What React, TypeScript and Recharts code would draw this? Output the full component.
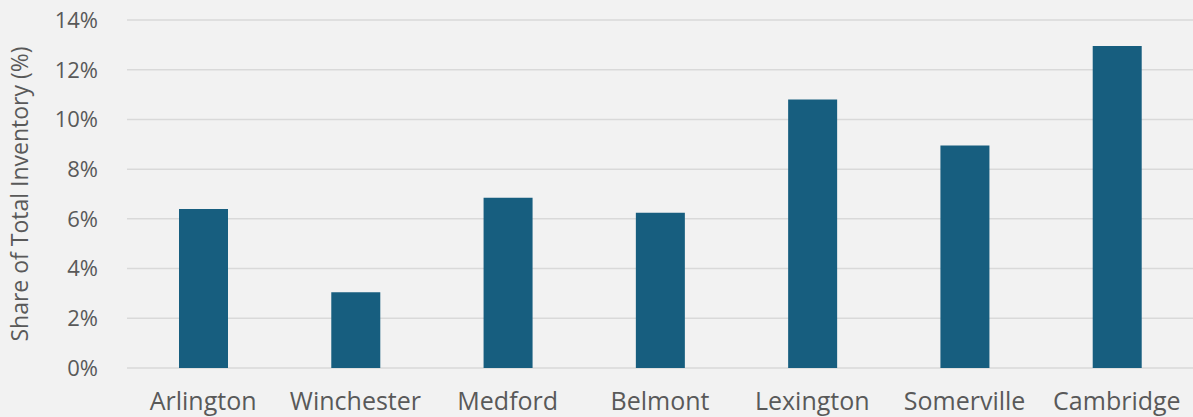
import { Bar, BarChart, CartesianGrid, XAxis, YAxis } from "recharts";

const towns = ["Arlington", "Winchester", "Medford", "Belmont", "Lexington", "Somerville", "Cambridge"];
const shares = [6.4, 3.05, 6.85, 6.25, 10.8, 8.95, 12.95];
const yTicks = [0, 2, 4, 6, 8, 10, 12, 14];

const data = towns.map((town, i) => ({ town, share: shares[i] }));

const textColor = "#595959";
const font = "'Open Sans', 'Noto Sans', sans-serif";

export default function App() {
  return (
    <div style={{ position: "absolute", left: 0, top: 0, width: 1193, height: 417, background: "#f2f2f2", fontFamily: font }}>
      <BarChart
        width={1193}
        height={417}
        data={data}
        margin={{ top: 20, right: 0, bottom: 0, left: 0 }}
        barSize={49}
      >
        <CartesianGrid vertical={false} stroke="#d9d9d9" strokeWidth={1.5} />
        <XAxis
          dataKey="town"
          axisLine={false}
          tickLine={false}
          height={49}
          tickMargin={18}
          interval={0}
          tick={{ fill: textColor, fontSize: 25, fontFamily: font }}
        />
        <YAxis
          width={127}
          domain={[0, 14]}
          ticks={yTicks}
          axisLine={false}
          tickLine={false}
          tickMargin={23}
          tickFormatter={(v: number) => `${v}%`}
          tick={{ fill: textColor, fontSize: 22, fontFamily: font }}
          label={{
            value: "Share of Total Inventory (%)",
            angle: -90,
            position: "insideLeft",
            offset: 20,
            style: { textAnchor: "middle", fill: textColor, fontSize: 23, fontFamily: font },
          }}
        />
        <Bar dataKey="share" fill="#175e7f" isAnimationActive={false} />
      </BarChart>
    </div>
  );
}
